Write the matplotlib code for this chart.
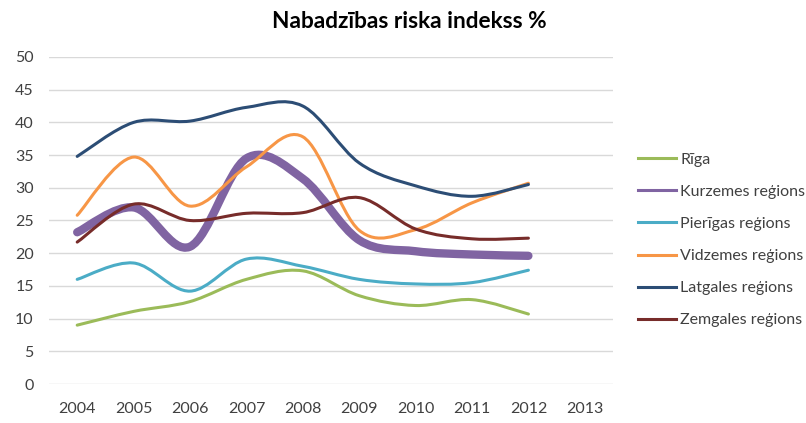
import matplotlib
matplotlib.use("Agg")
import matplotlib.pyplot as plt
from matplotlib.path import Path
from matplotlib.patches import PathPatch
from matplotlib.lines import Line2D
import numpy as np

plt.rcParams['font.family'] = ['Lato', 'DejaVu Sans']

years = ["2004", "2005", "2006", "2007", "2008", "2009", "2010", "2011", "2012", "2013"]

riga      = [9.0, 11.1, 12.6, 16.0, 17.3, 13.5, 12.0, 12.9, 10.7]
kurzemes  = [23.2, 27.0, 21.0, 34.5, 31.4, 22.0, 20.3, 19.8, 19.6]
pierigas  = [16.0, 18.5, 14.2, 19.1, 18.0, 16.0, 15.3, 15.5, 17.4]
vidzemes  = [25.8, 34.7, 27.2, 33.2, 37.8, 23.5, 23.6, 27.7, 30.7]
latgales  = [34.8, 40.0, 40.2, 42.3, 42.5, 33.8, 30.3, 28.7, 30.5]
zemgales  = [21.7, 27.5, 25.0, 26.1, 26.2, 28.5, 23.7, 22.2, 22.3]

names = ["Rīga", "Kurzemes reģions", "Pierīgas reģions",
         "Vidzemes reģions", "Latgales reģions", "Zemgales reģions"]
series = [riga, kurzemes, pierigas, vidzemes, latgales, zemgales]
colors = ["#9BBB59", "#8064A2", "#4BACC6", "#F79646", "#2C4D75", "#772C2A"]
widths = [2.2, 6.0, 2.2, 2.2, 2.2, 2.2]


def smooth_path(ys):
    # Excel-like smoothed line: cubic bezier through the data points
    x = np.arange(len(ys), dtype=float)
    y = np.asarray(ys, dtype=float)
    n = len(x)
    verts = [(x[0], y[0])]
    codes = [Path.MOVETO]
    for i in range(n - 1):
        i0 = max(i - 1, 0)
        i3 = min(i + 2, n - 1)
        c1 = (x[i] + (x[i + 1] - x[i0]) / 6, y[i] + (y[i + 1] - y[i0]) / 6)
        c2 = (x[i + 1] - (x[i3] - x[i]) / 6, y[i + 1] - (y[i3] - y[i]) / 6)
        verts += [c1, c2, (x[i + 1], y[i + 1])]
        codes += [Path.CURVE4] * 3
    return Path(verts, codes)


fig = plt.figure(figsize=(8.06, 4.23), dpi=100)
ax = fig.add_axes([49 / 806, 1 - 384 / 423, 564 / 806, 327 / 423])

for ys, c, lw in zip(series, colors, widths):
    patch = PathPatch(smooth_path(ys), facecolor='none', edgecolor=c, linewidth=lw,
                      capstyle='round', joinstyle='round')
    ax.add_patch(patch)

ax.set_xlim(-0.5, len(years) - 0.5)
ax.set_ylim(0, 50)
ax.set_xticks(range(len(years)))
ax.set_xticklabels(years)
ax.set_yticks(range(0, 51, 5))
ax.yaxis.grid(True, color='#D9D9D9', linewidth=1)
ax.set_axisbelow(True)
for s in ax.spines.values():
    s.set_visible(False)
ax.tick_params(length=0, labelsize=11.5, colors='#404040')
ax.tick_params(axis='y', pad=11)
ax.tick_params(axis='x', pad=13)

fig.text(409 / 806, 1 - 22 / 423, "Nabadzības riska indekss %", ha='center', va='center',
         fontsize=16.3, fontweight='bold')

handles = [Line2D([], [], color=c, linewidth=2.2) for c in colors]
fig.legend(handles, names, loc='center left', bbox_to_anchor=(638 / 806, 1 - 240 / 423),
           frameon=False, fontsize=11.5, handlelength=2.4, handletextpad=0.25,
           labelspacing=1.12, borderpad=0, borderaxespad=0, labelcolor='#404040')

fig.savefig("out.png", dpi=100)
